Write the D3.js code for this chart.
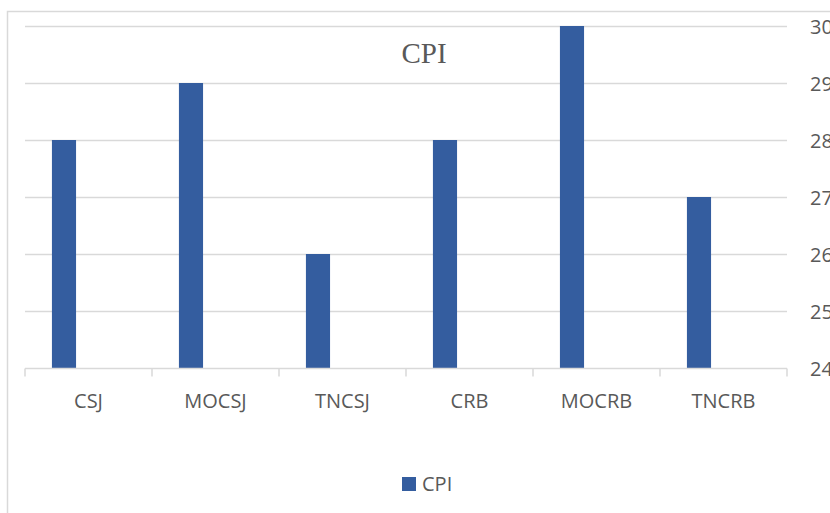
<!DOCTYPE html>
<html><head><meta charset="utf-8">
<script src="https://cdn.jsdelivr.net/npm/d3@7"></script>
<style>body{margin:0;background:#fff;overflow:hidden}</style>
</head><body>
<svg id="c" width="830" height="513"></svg>
<script>
const categories = ["CSJ","MOCSJ","TNCSJ","CRB","MOCRB","TNCRB"];
const cpiValues = [28,29,26,28,30,27];
const yTicks = [24,25,26,27,28,29,30];
const seriesName = "CPI";

(function(){
const svg = d3.select("#c");
const pl = 25, pr = 787, pt = 26, pb = 368;
const font = "'Open Sans', sans-serif";
// outer frame
svg.append("rect").attr("x",7.5).attr("y",11.5).attr("width",900).attr("height",600)
  .attr("fill","none").attr("stroke","#d9d9d9").attr("stroke-width",1.5);

const x = d3.scaleBand().domain(categories).range([pl,pr]);
const y = d3.scaleLinear().domain([24,30]).range([pb,pt]);

// gridlines
svg.append("g").selectAll("line").data(yTicks.filter(t=>t>24)).join("line")
  .attr("x1",pl).attr("x2",pr).attr("y1",d=>y(d)+0.5).attr("y2",d=>y(d)+0.5)
  .attr("stroke","#d9d9d9").attr("stroke-width",1.5);

// bars
const bw = x.bandwidth();
svg.append("g").selectAll("rect").data(categories).join("rect")
  .attr("x",(d)=>x(d)+bw*0.212).attr("width",bw*0.19)
  .attr("y",(d,i)=>y(cpiValues[i])).attr("height",(d,i)=>pb-y(cpiValues[i]))
  .attr("fill","#345d9f");

// x axis
const xa = svg.append("g").attr("transform",`translate(0,${pb+0.5})`);
xa.append("line").attr("x1",pl).attr("x2",pr).attr("stroke","#d9d9d9").attr("stroke-width",1.5);
const bounds = categories.map(c=>x(c)).concat([pr]);
xa.selectAll("line.t").data(bounds).join("line").attr("class","t")
  .attr("x1",d=>d).attr("x2",d=>d).attr("y1",0).attr("y2",8)
  .attr("stroke","#d9d9d9").attr("stroke-width",1.5);
xa.selectAll("text").data(categories).join("text")
  .attr("x",d=>x(d)+bw/2).attr("y",39).attr("text-anchor","middle")
  .attr("font-family",font).attr("font-size",20).attr("fill","#595959")
  .text(d=>d);

// y tick labels (right)
svg.append("g").selectAll("text").data(yTicks).join("text")
  .attr("x",810).attr("y",d=>y(d)+8)
  .attr("font-family",font).attr("font-size",20).attr("fill","#595959")
  .text(d=>d);

// title
svg.append("text").attr("x",424).attr("y",63).attr("text-anchor","middle")
  .attr("font-family","'Liberation Serif', 'Times New Roman', serif").attr("font-size",29).attr("fill","#595959")
  .text("CPI");

// legend
svg.append("rect").attr("x",402).attr("y",477).attr("width",14).attr("height",14).attr("fill","#345d9f");
svg.append("text").attr("x",422).attr("y",491)
  .attr("font-family",font).attr("font-size",20).attr("fill","#595959")
  .text(seriesName);
})();
</script>
</body></html>
